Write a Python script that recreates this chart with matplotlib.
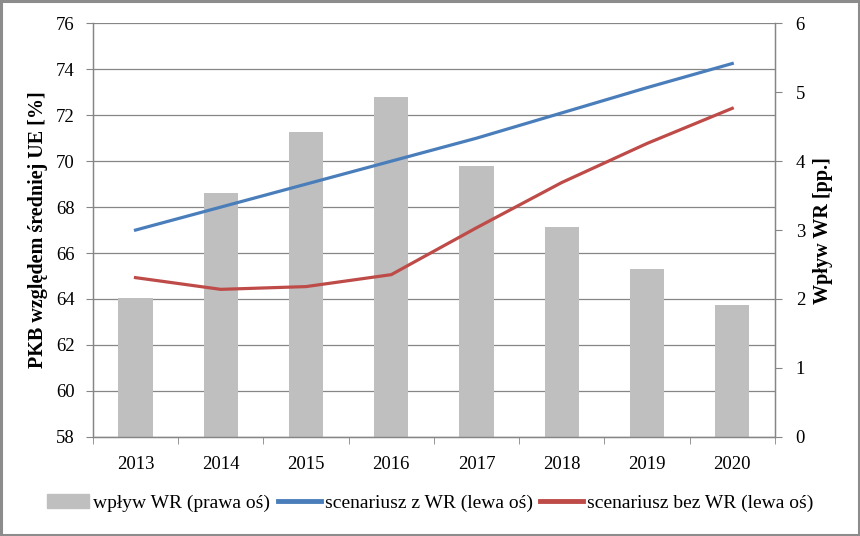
import matplotlib
matplotlib.use('Agg')
import matplotlib.pyplot as plt
import numpy as np
from matplotlib.patches import Rectangle
from matplotlib.ticker import FixedLocator, NullFormatter

years = ['2013', '2014', '2015', '2016', '2017', '2018', '2019', '2020']
wplyw = [2.02, 3.54, 4.43, 4.93, 3.93, 3.04, 2.43, 1.92]  # right axis
z_wr = [67.0, 68.0, 69.0, 70.0, 71.0, 72.1, 73.2, 74.25]   # left axis
bez_wr = [64.93, 64.42, 64.54, 65.06, 67.1, 69.07, 70.77, 72.3]

plt.rcParams['font.family'] = ['Liberation Serif', 'DejaVu Serif']
plt.rcParams['font.size'] = 13.5

fig = plt.figure(figsize=(8.6, 5.36), dpi=100)
fig.patches.append(Rectangle((0.0015, 0.002), 0.997, 0.996, transform=fig.transFigure,
                             fill=False, edgecolor='#8c8c8c', linewidth=2.2))
ax = fig.add_axes([0.108, 0.185, 0.793, 0.7715])
ax2 = ax.twinx()

x = np.arange(len(years))
grid_c = '#868686'

# bars on the right axis, drawn beneath the lines
ax2.bar(x, wplyw, width=0.4, color='#bfbfbf', zorder=1)
ax2.set_ylim(0, 6)
ax2.set_yticks(range(0, 7))

ax.set_zorder(ax2.get_zorder() + 1)
ax.patch.set_visible(False)
ax.plot(x, z_wr, color='#4a7ebb', linewidth=2.3, zorder=3)
ax.plot(x, bez_wr, color='#be4b48', linewidth=2.3, zorder=3)
ax.set_ylim(58, 76)
ax.set_yticks(range(58, 77, 2))
ax.set_xlim(-0.5, 7.5)
ax.set_xticks(x)
ax.set_xticklabels(years)
ax.tick_params(axis='x', length=0, pad=14)
ax.xaxis.set_minor_locator(FixedLocator(np.arange(-0.5, 8, 1)))
ax.xaxis.set_minor_formatter(NullFormatter())
ax.tick_params(axis='x', which='minor', length=5, color=grid_c, direction='out')
ax.tick_params(axis='y', length=5, color=grid_c, pad=8)
ax2.tick_params(axis='y', length=5, color=grid_c, pad=10)

# gridlines drawn on the bar axis so the bars cover them
for v in range(58, 77, 2):
    ax2.axhline((v - 58) / 3.0, color=grid_c, linewidth=0.9, zorder=0)

for a in (ax, ax2):
    a.spines['top'].set_visible(False)
    for s in ('left', 'right', 'bottom'):
        a.spines[s].set_color(grid_c)
        a.spines[s].set_linewidth(0.9)

ax.set_ylabel('PKB względem średniej UE [%]', fontweight='bold', fontsize=14.5, labelpad=6)
ax2.set_ylabel('Wpływ WR [pp.]', fontweight='bold', fontsize=14.5, labelpad=6)

handles = [Rectangle((0, 0), 1, 1, color='#bfbfbf'),
           plt.Line2D([], [], color='#4a7ebb', linewidth=3.5),
           plt.Line2D([], [], color='#be4b48', linewidth=3.5)]
labels = ['wpływ WR (prawa oś)', 'scenariusz z WR (lewa oś)', 'scenariusz bez WR (lewa oś)']
fig.legend(handles, labels, loc='center', bbox_to_anchor=(0.5, 0.062), ncol=3,
           frameon=False, handlelength=2.2, handletextpad=0.2, columnspacing=0.4,
           fontsize=14)

fig.savefig('out.png', dpi=100)
